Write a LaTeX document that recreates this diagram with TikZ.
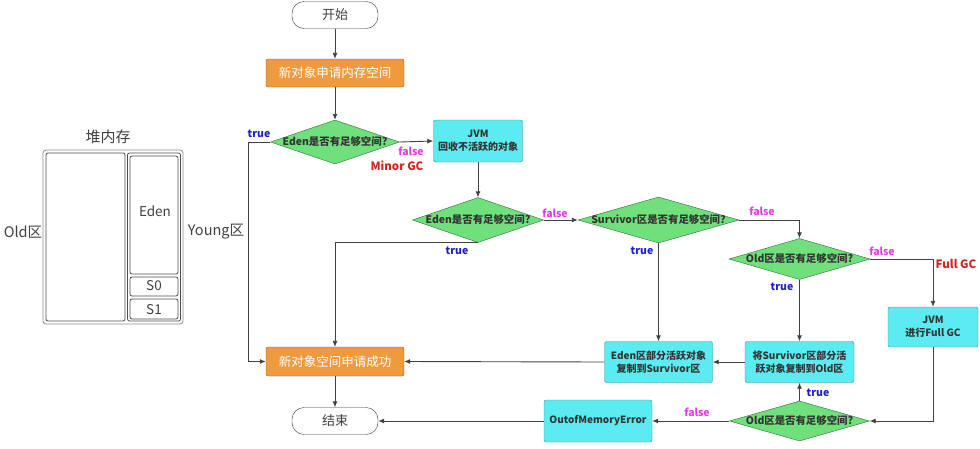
\documentclass[tikz,border=0pt]{standalone}
\usepackage{fontspec}
\setmainfont{Noto Sans CJK SC}
\usetikzlibrary{shapes.geometric,arrows.meta}
\definecolor{orangef}{HTML}{F09A3E}
\definecolor{oranged}{HTML}{8A5A28}
\definecolor{cyanf}{HTML}{5CEBF0}
\definecolor{cyand}{HTML}{3A8C96}
\definecolor{greenf}{HTML}{70E07C}
\definecolor{greend}{HTML}{2F6B36}
\definecolor{truec}{HTML}{1E1ECC}
\definecolor{falsec}{HTML}{E03CE0}
\definecolor{gcc}{HTML}{D42020}
\definecolor{linec}{HTML}{404040}
\begin{document}
\begin{tikzpicture}[x=1pt,y=-1pt,
  term/.style={draw=black!80, fill=white, rounded corners=12pt, minimum width=86pt, minimum height=27pt, inner sep=0pt, font=\fontsize{13}{15}\selectfont, text=black!75},
  obox/.style={draw=oranged, fill=orangef, rounded corners=2pt, minimum width=138pt, minimum height=28pt, inner sep=0pt, text=white, font=\fontsize{12.5}{14}\selectfont},
  cbox/.style={draw=cyand, fill=cyanf, rounded corners=2pt, align=center, inner sep=0pt, font=\bfseries\fontsize{10}{13}\selectfont, text=black!80},
  dia/.style={diamond, draw=greend, fill=greenf, inner sep=0pt},
  dtext/.style={font=\bfseries\fontsize{10.4}{12}\selectfont, text=black!80},
  arr/.style={draw=linec, line width=0.9pt, -{Latex[length=6pt,width=5pt]}},
  tl/.style={font=\bfseries\fontsize{10.5}{12}\selectfont, text=truec},
  fl/.style={font=\bfseries\fontsize{10.5}{12}\selectfont, text=falsec},
  gl/.style={font=\bfseries\fontsize{11.5}{13}\selectfont, text=gcc},
  heap/.style={draw=black!70, line width=0.8pt, rounded corners=2pt},
  heapt/.style={font=\fontsize{13.5}{15}\selectfont, text=black!75}
]
\useasboundingbox (0,0) rectangle (980,448);

% ---- heap diagram ----
\draw[draw=black!45, line width=0.8pt, rounded corners=3pt] (43,150) rectangle (183,324);
\draw[heap] (46,153) rectangle (125,321);
\draw[heap] (127.5,153) rectangle (180.5,321);
\draw[heap] (130,156) rectangle (178,274);
\draw[heap] (130,277) rectangle (178,296);
\draw[heap] (130,299) rectangle (178,319);
\node[heapt, font=\fontsize{15}{17}\selectfont] (heaptitle) at (108,137) {堆内存};
\node[heapt] (edenl) at (155,211) {Eden};
\node[heapt] (s0l) at (154,286) {S0};
\node[heapt] (s1l) at (154,310) {S1};
\node[heapt, font=\fontsize{14.5}{16}\selectfont] (oldl) at (23,232) {Old区};
\node[heapt, font=\fontsize{14.5}{16}\selectfont] (youngl) at (216,232) {Young区};

% ---- flowchart nodes ----
\node[term] (start) at (335,15) {开始};
\node[obox] (req) at (335,73) {新对象申请内存空间};
\node[dia, minimum width=129pt, minimum height=44pt] (d1) at (335,142) {};
\node[dtext] (d1t) at (d1) {Eden是否有足够空间?};
\node[cbox, minimum width=89pt, minimum height=42pt] (jvm1) at (478,141) {JVM\\回收不活跃的对象};
\node[dia, minimum width=131pt, minimum height=45pt] (d2) at (478,220) {};
\node[dtext] (d2t) at (d2) {Eden是否有足够空间?};
\node[dia, minimum width=161pt, minimum height=46pt] (d3) at (658.5,220) {};
\node[dtext] (d3t) at (d3) {Survivor区是否有足够空间?};
\node[dia, minimum width=141pt, minimum height=41pt] (d4) at (799.5,259) {};
\node[dtext] (d4t) at (d4) {Old区是否有足够空间?};
\node[cbox, minimum width=90pt, minimum height=40pt] (fgc) at (933,327) {JVM\\进行Full GC};
\node[cbox, minimum width=108pt, minimum height=41pt] (edenb) at (658.5,362) {Eden区部分活跃对象\\复制到Survivor区};
\node[cbox, minimum width=109pt, minimum height=41pt] (surv) at (799.5,362) {将Survivor区部分活\\跃对象复制到Old区};
\node[dia, minimum width=140pt, minimum height=40pt] (d5) at (799.5,421) {};
\node[dtext] (d5t) at (d5) {Old区是否有足够空间?};
\node[cbox, minimum width=108pt, minimum height=42pt] (oom) at (598,421) {OutofMemoryError};
\node[obox, minimum height=29pt] (ok) at (335,361.5) {新对象空间申请成功};
\node[term] (end) at (335,421) {结束};

% ---- connectors ----
\draw[arr] (start) -- (req);
\draw[arr] (req) -- (d1);
\draw[arr] (d1.west) -- (248,142) coordinate (c1) |- (ok.west);
\draw[arr] (d1.east) -- (jvm1.west);
\draw[arr] (jvm1.south) -- (d2.north);
\draw[arr] (d2.south) -| (ok.north);
\draw[arr] (d2.east) -- (d3.west);
\draw[arr] (d3.east) -| (d4.north);
\draw[arr] (d3.south) -- (edenb.north);
\draw[arr] (d4.east) -| (fgc.north);
\draw[arr] (d4.south) -- (surv.north);
\draw[arr] (surv.west) -- (edenb.east);
\draw[arr] (edenb.west) -- (ok.east);
\draw[arr] (fgc.south) |- (d5.east);
\draw[arr] (d5.north) -- (surv.south);
\draw[arr] (d5.west) -- (oom.east);
\draw[arr] (oom.west) -- (end.east);
\draw[arr] (ok.south) -- (end.north);

% ---- labels ----
\node[tl] (t1) at (259,134) {true};
\node[fl] (f1) at (411,151) {false};
\node[gl] (g1) at (397,166) {Minor GC};
\node[fl] (f2) at (555,213) {false};
\node[tl] (t2) at (457,251) {true};
\node[tl] (t3) at (642,251) {true};
\node[fl] (f3) at (762,211) {false};
\node[fl] (f4) at (882,251) {false};
\node[gl] (g2) at (956,264) {Full GC};
\node[tl] (t4) at (782,287) {true};
\node[tl] (t5) at (818,393) {true};
\node[fl] (f5) at (697,412) {false};
\end{tikzpicture}
\end{document}
